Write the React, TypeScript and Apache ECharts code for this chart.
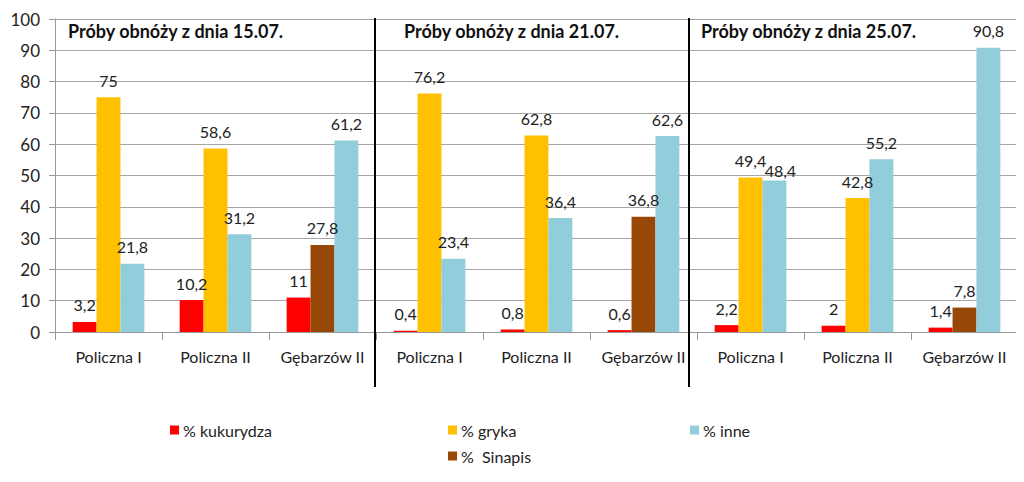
import React, { useEffect, useRef } from "react";
import * as echarts from "echarts";

const categories = [
  "Policzna I", "Policzna II", "Gębarzów II",
  "Policzna I", "Policzna II", "Gębarzów II",
  "Policzna I", "Policzna II", "Gębarzów II",
];
const kukurydza = [3.2, 10.2, 11, 0.4, 0.8, 0.6, 2.2, 2, 1.4];
const gryka = [75, 58.6, null, 76.2, 62.8, null, 49.4, 42.8, null];
const sinapis = [null, null, 27.8, null, null, 36.8, null, null, 7.8];
const inne = [21.8, 31.2, 61.2, 23.4, 36.4, 62.6, 48.4, 55.2, 90.8];
const groupTitles = [
  "Próby obnóży z dnia 15.07.",
  "Próby obnóży z dnia 21.07.",
  "Próby obnóży z dnia 25.07.",
];
const yTicks = { min: 0, max: 100, interval: 10 };

const FONT = "Lato, 'Open Sans', sans-serif";
const TXT = "#222";

export default function App() {
  const ref = useRef<HTMLDivElement>(null);
  useEffect(() => {
    if (!ref.current) return;
    const chart = echarts.init(ref.current, null, { renderer: "svg" });
    const label = {
      show: true,
      position: "top" as const,
      distance: 9,
      color: TXT,
      fontSize: 16,
      fontFamily: FONT,
      formatter: (p: any) =>
        p.value == null ? "" : String(p.value).replace(".", ","),
    };
    const mk = (name: string, data: any[], color: string, stack?: string) => ({
      name,
      type: "bar",
      data,
      stack,
      barGap: "0%",
      barCategoryGap: "33%",
      itemStyle: { color },
      label,
    });
    const legendItem = (name: string, left: number, top: number) => ({
      data: [name],
      left,
      top,
      icon: "rect",
      itemWidth: 9,
      itemHeight: 9,
      itemGap: 4,
      selectedMode: false,
      textStyle: { fontFamily: FONT, fontSize: 16, color: TXT, padding: [0, 0, 0, -1] },
    });
    // the overlapping "48,4" label sits lower-right in the reference
    const inneData = inne.map((v, i) =>
      i === 6
        ? {
            value: v,
            label: {
              show: true,
              position: "insideTop",
              distance: 0,
              offset: [6, -18],
              color: TXT,
              fontSize: 16,
              fontFamily: FONT,
              formatter: (p: any) => String(p.value).replace(".", ","),
            },
          }
        : v
    );
    chart.setOption({
      animation: false,
      backgroundColor: "#fff",
      textStyle: { fontFamily: FONT },
      grid: { left: 55, right: 6, top: 19, bottom: 150 },
      legend: [
        legendItem("% kukurydza", 165, 417),
        legendItem("% gryka", 443, 417),
        legendItem("% inne", 685, 417),
        legendItem("%  Sinapis", 443, 443),
      ],
      xAxis: {
        type: "category",
        data: categories,
        axisLine: { lineStyle: { color: "#999" } },
        axisTick: { show: true, length: 8, lineStyle: { color: "#999" } },
        axisLabel: {
          interval: 0,
          color: TXT,
          fontSize: 16,
          fontFamily: FONT,
          margin: 16,
        },
      },
      yAxis: {
        type: "value",
        min: yTicks.min,
        max: yTicks.max,
        interval: yTicks.interval,
        axisLine: { show: true, lineStyle: { color: "#999" } },
        axisTick: { show: true, length: 6, lineStyle: { color: "#999" } },
        axisLabel: { color: TXT, fontSize: 17, fontFamily: FONT, margin: 15 },
        splitLine: { lineStyle: { color: "#a6a6a6" } },
      },
      graphic: [
        ...groupTitles.map((t, i) => ({
          type: "text",
          left: [68, 404, 701][i],
          top: 22,
          style: {
            text: t,
            fontFamily: FONT,
            fontWeight: "bold",
            fontSize: 18,
            fill: "#111",
          },
        })),
        ...[375, 689].map((x) => ({
          type: "line",
          shape: { x1: x, y1: 18, x2: x, y2: 387 },
          style: { stroke: "#000", lineWidth: 2 },
          z: 10,
        })),
      ],
      series: [
        mk("% kukurydza", kukurydza, "#ff0000"),
        mk("% gryka", gryka, "#ffc000", "mid"),
        mk("%  Sinapis", sinapis, "#974706", "mid"),
        mk("% inne", inneData, "#92cddc"),
      ],
    });
    return () => chart.dispose();
  }, []);
  return <div ref={ref} style={{ width: 1024, height: 482, margin: -8 }} />;
}
